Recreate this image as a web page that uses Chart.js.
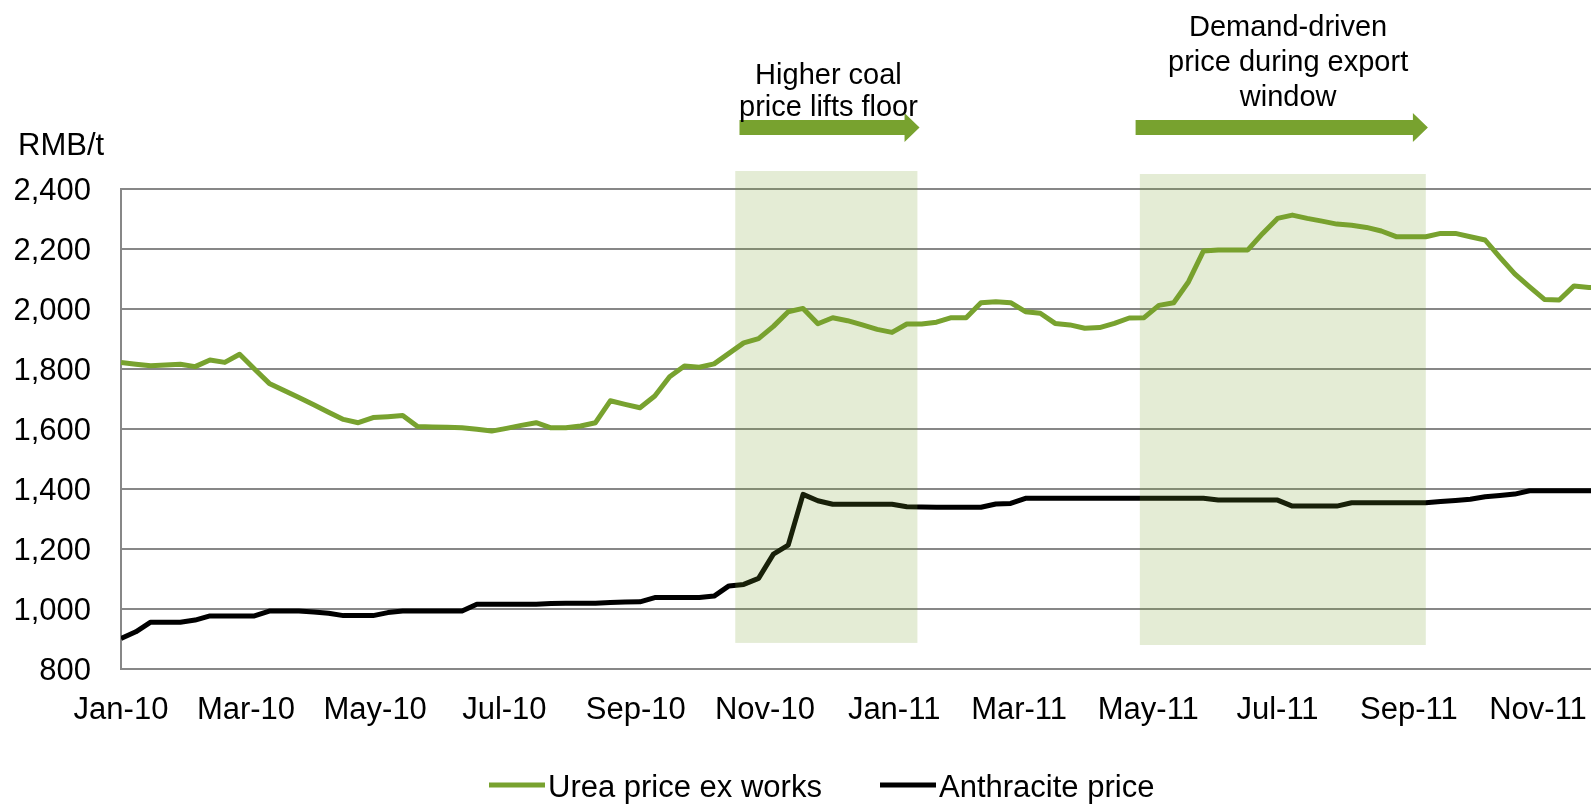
<!DOCTYPE html>
<html>
<head>
<meta charset="utf-8">
<title>Urea and anthracite prices</title>
<script src="https://cdn.jsdelivr.net/npm/chart.js@4.4.0/dist/chart.umd.min.js"></script>
<style>
html, body { margin: 0; padding: 0; background: #fff; overflow: hidden; }
#chart { display: block; }
</style>
</head>
<body>
<canvas id="chart" width="1591" height="805"></canvas>
<script>
'use strict';

// Weekly observations, the first one on 1 Jan 2010 (RMB/t)
var urea = [
	1822, 1816, 1811, 1813, 1816, 1808, 1830, 1822, 1849, 1800,
	1752, 1728, 1705, 1681, 1656, 1632, 1621, 1638, 1641, 1645,
	1608, 1607, 1606, 1604, 1599, 1593, 1602, 1612, 1621, 1604,
	1604, 1610, 1621, 1694, 1682, 1671, 1710, 1774, 1810, 1806,
	1817, 1852, 1887, 1901, 1942, 1991, 2002, 1951, 1971, 1961,
	1947, 1932, 1922, 1950, 1950, 1956, 1971, 1971, 2021, 2024,
	2021, 1991, 1986, 1952, 1947, 1936, 1938, 1952, 1970, 1971,
	2012, 2021, 2091, 2193, 2197, 2197, 2197, 2252, 2302, 2313,
	2302, 2293, 2283, 2279, 2272, 2260, 2241, 2241, 2241, 2252,
	2252, 2241, 2230, 2172, 2117, 2074, 2032, 2030, 2077, 2072,
	2068
];
var anthracite = [
	902, 924, 956, 956, 956, 963, 977, 977, 977, 977,
	993, 993, 993, 990, 986, 978, 978, 978, 988, 993,
	993, 993, 993, 993, 1016, 1016, 1016, 1016, 1016, 1018,
	1019, 1019, 1019, 1022, 1023, 1024, 1038, 1038, 1038, 1038,
	1043, 1077, 1082, 1102, 1183, 1213, 1382, 1361, 1349, 1349,
	1349, 1349, 1349, 1341, 1340, 1339, 1339, 1339, 1339, 1350,
	1352, 1369, 1369, 1369, 1369, 1369, 1369, 1369, 1369, 1369,
	1369, 1369, 1369, 1369, 1363, 1363, 1363, 1363, 1363, 1343,
	1343, 1343, 1343, 1354, 1354, 1354, 1354, 1354, 1354, 1358,
	1362, 1366, 1374, 1378, 1383, 1394, 1394, 1394, 1394, 1394,
	1394
];

var seriesNames = ['Urea price ex works', 'Anthracite price'];
var seriesColors = ['#78a22f', '#000000'];

var tickMonths = ['2010-01-01', '2010-03-01', '2010-05-01', '2010-07-01', '2010-09-01', '2010-11-01',
	'2011-01-01', '2011-03-01', '2011-05-01', '2011-07-01', '2011-09-01', '2011-11-01'];
var tickLabels = ['Jan-10', 'Mar-10', 'May-10', 'Jul-10', 'Sep-10', 'Nov-10',
	'Jan-11', 'Mar-11', 'May-11', 'Jul-11', 'Sep-11', 'Nov-11'];

// Shaded windows, arrows and notes above the plot
var bandFrom = ['2010-10-18', '2011-04-27'];
var bandTo = ['2011-01-12', '2011-09-09'];
var bandTop = [2460, 2450];
var bandBottom = [887, 880];
var arrowFrom = ['2010-10-20', '2011-04-25'];
var arrowTo = ['2011-01-13', '2011-09-10'];
var noteAt = ['2010-12-01', '2011-07-06'];
var noteLines = [
	['Higher coal', 'price lifts floor'],
	['Demand-driven', 'price during export', 'window']
];

var FONT = '"Liberation Sans", Arial, sans-serif';
var origin = Date.UTC(2010, 0, 1);

function dayOf(s) {
	var p = s.split('-');
	return (Date.UTC(+p[0], +p[1] - 1, +p[2]) - origin) / 86400000;
}

var tickDays = tickMonths.map(dayOf);

function points(values) {
	return values.map(function (v, i) {
		return { x: i * 7, y: v };
	});
}

function arrow(ctx, x0, x1, yc) {
	var shaft = 7.5, head = 14.5, len = 15;
	ctx.beginPath();
	ctx.moveTo(x0, yc - shaft);
	ctx.lineTo(x1 - len, yc - shaft);
	ctx.lineTo(x1 - len, yc - head);
	ctx.lineTo(x1, yc);
	ctx.lineTo(x1 - len, yc + head);
	ctx.lineTo(x1 - len, yc + shaft);
	ctx.lineTo(x0, yc + shaft);
	ctx.closePath();
	ctx.fill();
}

var overlays = {
	id: 'overlays',
	afterDatasetsDraw: function (chart) {
		var ctx = chart.ctx,
			xs = chart.scales.x,
			ys = chart.scales.y;
		ctx.save();
		ctx.fillStyle = 'rgba(120, 162, 47, 0.2)';
		bandFrom.forEach(function (d, i) {
			var x0 = xs.getPixelForValue(dayOf(d)),
				x1 = xs.getPixelForValue(dayOf(bandTo[i])),
				y0 = ys.getPixelForValue(bandTop[i]),
				y1 = ys.getPixelForValue(bandBottom[i]);
			ctx.fillRect(x0, y0, x1 - x0, y1 - y0);
		});
		ctx.restore();
	},
	afterDraw: function (chart) {
		var ctx = chart.ctx,
			xs = chart.scales.x;
		ctx.save();

		// arrows
		ctx.fillStyle = seriesColors[0];
		arrowFrom.forEach(function (d, i) {
			arrow(ctx, xs.getPixelForValue(dayOf(d)), xs.getPixelForValue(dayOf(arrowTo[i])), 127.5);
		});

		// notes
		ctx.fillStyle = '#000';
		ctx.textAlign = 'center';
		ctx.textBaseline = 'middle';
		ctx.font = '29px ' + FONT;
		var firstLine = [76, 28],
			lineGap = [32, 35];
		noteLines.forEach(function (lines, i) {
			var x = xs.getPixelForValue(dayOf(noteAt[i]));
			lines.forEach(function (t, j) {
				ctx.fillText(t, x, firstLine[i] + j * lineGap[i]);
			});
		});

		// unit label
		ctx.font = '31px ' + FONT;
		ctx.textAlign = 'left';
		ctx.fillText('RMB/t', 18, 146);

		// legend
		var keyX = [489, 880];
		chart.data.datasets.forEach(function (ds, i) {
			ctx.strokeStyle = ds.borderColor;
			ctx.lineWidth = 5;
			ctx.beginPath();
			ctx.moveTo(keyX[i], 785);
			ctx.lineTo(keyX[i] + 56, 785);
			ctx.stroke();
			ctx.fillStyle = '#000';
			ctx.fillText(ds.label, keyX[i] + 59, 788);
		});
		ctx.restore();
	}
};

new Chart(document.getElementById('chart'), {
	type: 'line',
	data: {
		datasets: [
			{
				label: seriesNames[0],
				data: points(urea),
				borderColor: seriesColors[0],
				borderWidth: 5,
				pointRadius: 0,
				borderJoinStyle: 'round',
				tension: 0
			},
			{
				label: seriesNames[1],
				data: points(anthracite),
				borderColor: seriesColors[1],
				borderWidth: 5,
				pointRadius: 0,
				borderJoinStyle: 'round',
				tension: 0
			}
		]
	},
	options: {
		responsive: false,
		animation: false,
		devicePixelRatio: 1,
		layout: { padding: { top: 189, left: 0, right: 0, bottom: 0 } },
		plugins: {
			legend: { display: false },
			tooltip: { enabled: false }
		},
		scales: {
			x: {
				type: 'linear',
				min: 0,
				max: 694,
				afterBuildTicks: function (scale) {
					scale.ticks = tickDays.map(function (v) { return { value: v }; });
				},
				afterFit: function (scale) {
					scale.height = 136;
					scale.paddingLeft = 0;
					scale.paddingRight = 0;
				},
				grid: { display: false, drawTicks: false },
				border: { display: true, color: '#878787', width: 2 },
				ticks: {
					autoSkip: false,
					maxRotation: 0,
					padding: 23,
					color: '#000',
					font: { family: FONT, size: 31 },
					callback: function (value) {
						var k = tickDays.indexOf(value);
						return k < 0 ? '' : tickLabels[k];
					}
				}
			},
			y: {
				min: 800,
				max: 2400,
				afterFit: function (scale) {
					scale.width = 121;
				},
				grid: { color: '#878787', lineWidth: 2, drawTicks: false },
				border: { display: true, color: '#878787', width: 2 },
				ticks: {
					stepSize: 200,
					padding: 30,
					labelOffset: 2,
					color: '#000',
					font: { family: FONT, size: 31 },
					callback: function (value) {
						return value.toLocaleString('en-US');
					}
				}
			}
		}
	},
	plugins: [overlays]
});
</script>
</body>
</html>
